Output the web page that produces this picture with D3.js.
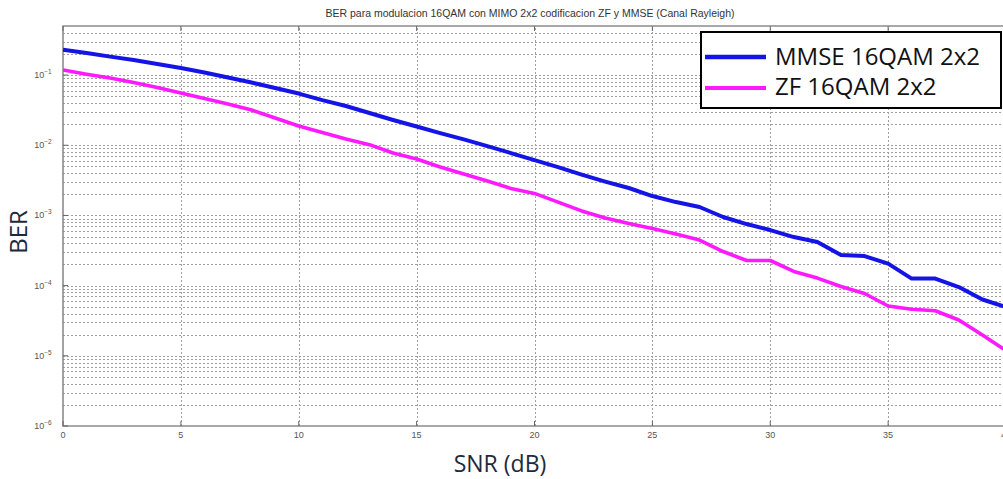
<!DOCTYPE html>
<meta charset="utf-8">
<style>
body { margin: 0; background: #fff; }
svg { display: block; }
.grid line { stroke: #a0a0a0; stroke-width: 1; stroke-dasharray: 2,2; shape-rendering: crispEdges; }
.tick-label { font-family: "Liberation Sans", Arial, sans-serif; fill: #555; }
</style>
<svg width="1003" height="479"></svg>
<script src="https://cdn.jsdelivr.net/npm/d3@7"></script>
<script>

var snr = d3.range(0, 41);

var mmse = [0.230, 0.206, 0.183, 0.164, 0.144, 0.126, 0.109, 0.0921, 0.0782, 0.0653,
            0.0545, 0.0440, 0.0362, 0.0288, 0.0229, 0.0185, 0.0149, 0.0121, 0.00974, 0.00774,
            0.00615, 0.00489, 0.00382, 0.00304, 0.00246, 0.00189, 0.00155, 0.00132, 0.000949, 0.000754,
            0.000619, 0.000492, 0.000418, 0.000273, 0.000264, 0.000206, 0.000126, 0.000126, 0.0000955, 0.0000634,
            0.0000496];

var zf = [0.118, 0.103, 0.0907, 0.0782, 0.0664, 0.0554, 0.0463, 0.0386, 0.0317, 0.0244,
          0.0188, 0.0152, 0.0123, 0.0102, 0.00774, 0.00636, 0.00489, 0.00389, 0.00309, 0.00242,
          0.00206, 0.00155, 0.00116, 0.000918, 0.000767, 0.000651, 0.000543, 0.000446, 0.000306, 0.000228,
          0.000228, 0.000159, 0.000128, 0.0000971, 0.0000772, 0.0000512, 0.0000460, 0.0000439, 0.0000324, 0.0000198,
          0.0000119];

var seriesNames = ["MMSE 16QAM 2x2", "ZF 16QAM 2x2"];
var seriesColors = ["#1414e6", "#ff19ff"];
var xTicks = [0, 5, 10, 15, 20, 25, 30, 35, 40];
var yTicks = [1e-6, 1e-5, 1e-4, 1e-3, 1e-2, 1e-1];
var title = "BER para modulacion 16QAM con MIMO 2x2 codificacion ZF y MMSE (Canal Rayleigh)";

var svg = d3.select("svg"),
    margin = {top: 26, right: -3, bottom: 53, left: 63},
    width = +svg.attr("width"),
    height = +svg.attr("height");

var x = d3.scaleLinear()
    .domain([0, 40])
    .range([margin.left, width - margin.right]);

var y = d3.scaleLog()
    .domain([1e-6, 0.5])
    .range([height - margin.bottom, margin.top]);

// grid
var grid = svg.append("g").attr("class", "grid");

grid.selectAll(".hg")
  .data(y.ticks().filter(function(d) { return d > 1e-6 && d < 0.5; }))
  .enter().append("line")
    .attr("x1", x(0)).attr("x2", x(40))
    .attr("y1", function(d) { return Math.round(y(d)) + 0.5; })
    .attr("y2", function(d) { return Math.round(y(d)) + 0.5; });

grid.selectAll(".vg")
  .data(xTicks.filter(function(d) { return d > 0 && d < 40; }))
  .enter().append("line")
    .attr("y1", y(1e-6)).attr("y2", y(0.5))
    .attr("x1", function(d) { return Math.round(x(d)) + 0.5; })
    .attr("x2", function(d) { return Math.round(x(d)) + 0.5; });

// frame
svg.append("path")
    .attr("d", "M" + x(40) + "," + y(0.5) + "H" + x(0) + "V" + y(1e-6) + "H" + x(40))
    .attr("fill", "none")
    .attr("stroke", "#8c8c8c")
    .attr("stroke-width", 1.6);

// small ticks on the axes
svg.append("g").selectAll("line")
  .data(xTicks)
  .enter().append("line")
    .attr("x1", function(d) { return x(d); }).attr("x2", function(d) { return x(d); })
    .attr("y1", y(1e-6)).attr("y2", y(1e-6) - 5)
    .attr("stroke", "#666");
svg.append("g").selectAll("line")
  .data(xTicks)
  .enter().append("line")
    .attr("x1", function(d) { return x(d); }).attr("x2", function(d) { return x(d); })
    .attr("y1", y(0.5)).attr("y2", y(0.5) + 5)
    .attr("stroke", "#666");
svg.append("g").selectAll("line")
  .data(yTicks)
  .enter().append("line")
    .attr("x1", x(0)).attr("x2", x(0) + 5)
    .attr("y1", function(d) { return y(d); }).attr("y2", function(d) { return y(d); })
    .attr("stroke", "#666");

// x tick labels (the last one is cut by the window edge, as in the source)
svg.append("g").selectAll("text")
  .data(xTicks)
  .enter().append("text")
    .attr("class", "tick-label")
    .attr("x", function(d) { return x(d); })
    .attr("y", y(1e-6) + 12)
    .attr("text-anchor", "middle")
    .style("font-size", "9px")
    .text(function(d) { return d; });

// y tick labels 10^-k
var yl = svg.append("g").selectAll("text")
  .data(yTicks)
  .enter().append("text")
    .attr("class", "tick-label")
    .attr("x", x(0) - 20)
    .attr("y", function(d) { return y(d) + 3; })
    .attr("text-anchor", "middle")
    .style("font-size", "9px");
yl.append("tspan").text("10");
yl.append("tspan")
    .attr("dy", -4)
    .style("font-size", "6.5px")
    .text(function(d) { return "\u2212" + Math.round(-Math.log10(d)); });

// curves
var line = d3.line()
    .x(function(d, i) { return x(snr[i]); })
    .y(function(d) { return y(d); });

svg.append("defs").append("clipPath").attr("id", "clip")
  .append("rect")
    .attr("x", x(0)).attr("y", y(0.5))
    .attr("width", x(40) - x(0)).attr("height", y(1e-6) - y(0.5));

var curves = svg.append("g").attr("clip-path", "url(#clip)");
[mmse, zf].forEach(function(s, i) {
  curves.append("path")
      .datum(s)
      .attr("d", line)
      .attr("fill", "none")
      .attr("stroke", seriesColors[i])
      .attr("stroke-width", i == 0 ? 4 : 3.6)
      .attr("stroke-linejoin", "round");
});

// title
svg.append("text")
    .attr("x", 530)
    .attr("y", 17)
    .attr("text-anchor", "middle")
    .style("font-family", "'Liberation Sans', Arial, sans-serif")
    .style("font-size", "10.5px")
    .style("fill", "#333")
    .text(title);

// axis labels
svg.append("text")
    .attr("transform", "translate(27," + 232 + ") rotate(-90)")
    .attr("text-anchor", "middle")
    .style("font-family", "'Open Sans', sans-serif")
    .style("font-size", "24px")
    .style("fill", "#1d2a3e")
    .text("BER");

svg.append("text")
    .attr("x", 500)
    .attr("y", 472)
    .attr("text-anchor", "middle")
    .style("font-family", "'Open Sans', sans-serif")
    .style("font-size", "23px")
    .style("fill", "#1d2a3e")
    .text("SNR (dB)");

// legend
var legend = svg.append("g");
legend.append("rect")
    .attr("x", 701).attr("y", 32)
    .attr("width", 300).attr("height", 76)
    .attr("fill", "#fff")
    .attr("stroke", "#000")
    .attr("stroke-width", 2);

var legendY = [57, 88];
seriesNames.forEach(function(name, i) {
  legend.append("line")
      .attr("x1", 705).attr("x2", 766)
      .attr("y1", legendY[i]).attr("y2", legendY[i])
      .attr("stroke", seriesColors[i])
      .attr("stroke-width", i == 0 ? 4.5 : 4);
  legend.append("text")
      .attr("x", 775)
      .attr("y", legendY[i] + 8 - i)
      .style("font-family", "'Open Sans', sans-serif")
      .style("font-size", "24px")
      .style("fill", "#111")
      .text(name);
});

</script>
